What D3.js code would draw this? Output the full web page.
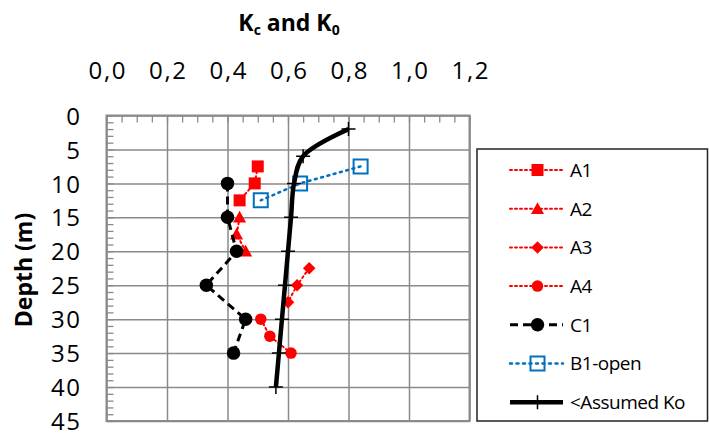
<!DOCTYPE html>
<html><head><meta charset="utf-8">
<script src="https://cdn.jsdelivr.net/npm/d3@7"></script>
<style>body{margin:0;background:#fff}svg{display:block;font-family:"Open Sans",sans-serif}</style>
</head><body><svg id="c" width="709" height="437"></svg>
<script>
// ---- data ----
const xTicks = [0, 0.2, 0.4, 0.6, 0.8, 1.0, 1.2];
const xTickLabels = ["0,0", "0,2", "0,4", "0,6", "0,8", "1,0", "1,2"];
const yTicks = [0, 5, 10, 15, 20, 25, 30, 35, 40, 45];
const seriesNames = ["A1", "A2", "A3", "A4", "C1", "B1-open", "<Assumed Ko"];
const a1K = [0.50, 0.49, 0.44];          const a1D = [7.5, 10, 12.5];
const a2K = [0.44, 0.43, 0.46];          const a2D = [15, 17.5, 20];
const a3K = [0.67, 0.63, 0.60];          const a3D = [22.5, 25, 27.5];
const a4K = [0.51, 0.54, 0.61];          const a4D = [30, 32.5, 35];
const c1K = [0.40, 0.40, 0.43, 0.33, 0.46, 0.42]; const c1D = [10, 15, 20, 25, 30, 35];
const b1K = [0.84, 0.64, 0.51];          const b1D = [7.5, 10, 12.5];
const koK = [0.80, 0.65, 0.62, 0.61, 0.60, 0.59, 0.58, 0.57, 0.56];
const koD = [2, 6, 10, 15, 20, 25, 30, 35, 40];

// ---- layout ----
const svg = d3.select("#c");
const L = 106.5, R = 469.5, T = 115.5, B = 421;
const x = d3.scaleLinear().domain([0, 1.2]).range([L, R]);
const y = d3.scaleLinear().domain([0, 45]).range([T, B]);
const gridC = "#8a8a8a";

// gridlines
svg.append("g").attr("transform", `translate(0,${T})`)
  .call(d3.axisBottom(x).tickValues(xTicks).tickSize(B - T).tickFormat(""))
  .call(g => g.select(".domain").remove())
  .call(g => g.selectAll("line").attr("stroke", gridC).attr("stroke-width", 1.5));
svg.append("g").attr("transform", `translate(${L},0)`)
  .call(d3.axisRight(y).tickValues(yTicks).tickSize(R - L).tickFormat(""))
  .call(g => g.select(".domain").remove())
  .call(g => g.selectAll("line").attr("stroke", gridC).attr("stroke-width", 1.5));
// minor ticks
svg.append("g").attr("transform", `translate(0,${T})`)
  .call(d3.axisBottom(x).tickValues(d3.range(0, 1.2001, 0.05)).tickSize(7).tickFormat(""))
  .call(g => g.select(".domain").remove())
  .call(g => g.selectAll("line").attr("stroke", gridC).attr("stroke-width", 1.3));
svg.append("g").attr("transform", `translate(${L},0)`)
  .call(d3.axisRight(y).tickValues(d3.range(0, 45.01, 1)).tickSize(7).tickFormat(""))
  .call(g => g.select(".domain").remove())
  .call(g => g.selectAll("line").attr("stroke", gridC).attr("stroke-width", 1.3));
// border
svg.append("rect").attr("x", L).attr("y", T).attr("width", R - L).attr("height", B - T)
  .attr("fill", "none").attr("stroke", gridC).attr("stroke-width", 2);

// tick labels
svg.append("g").attr("transform", `translate(0.8,79)`)
  .call(d3.axisTop(x).tickValues(xTicks).tickSize(0).tickPadding(0)
    .tickFormat((d, i) => xTickLabels[i]))
  .call(g => g.select(".domain").remove())
  .call(g => g.selectAll("text").attr("font-size", 24).attr("letter-spacing", 1.6)
    .attr("font-family", "Open Sans").attr("fill", "#000").attr("dy", 0));
svg.append("g").attr("transform", `translate(81.5,0)`)
  .call(d3.axisLeft(y).tickValues(yTicks).tickSize(0).tickPadding(0))
  .call(g => g.select(".domain").remove())
  .call(g => g.selectAll("text").attr("font-size", 24).attr("letter-spacing", 1.5)
    .attr("font-family", "Open Sans").attr("fill", "#000").attr("dy", "0.36em"));

// titles
const t = svg.append("text").attr("x", 289).attr("y", 31).attr("text-anchor", "middle")
  .attr("font-size", 23).attr("font-weight", "bold");
t.append("tspan").text("K");
t.append("tspan").attr("font-size", 14).attr("dy", 4).text("c");
t.append("tspan").attr("dy", -4).text(" and K");
t.append("tspan").attr("font-size", 14).attr("dy", 4).text("0");
svg.append("text").attr("transform", "translate(32,270) rotate(-90)").attr("text-anchor", "middle")
  .attr("font-size", 23).attr("font-weight", "bold").text("Depth (m)");

// series
const red = "#ff0000", blue = "#0070c0";
const series = [
  {k: a1K, d: a1D, color: red, dash: "2,3", w: 2, sym: "square", size: 12, fill: red},
  {k: a2K, d: a2D, color: red, dash: "2,3", w: 2, sym: "triangle", size: 13, fill: red},
  {k: a3K, d: a3D, color: red, dash: "2,3", w: 2, sym: "diamond", size: 12.5, fill: red},
  {k: a4K, d: a4D, color: red, dash: "2,3", w: 2, sym: "circle", size: 11.5, fill: red},
  {k: c1K, d: c1D, color: "#000", dash: "8,5", w: 3, sym: "circle", size: 13.5, fill: "#000"},
  {k: b1K, d: b1D, color: blue, dash: "2,4.5", w: 2.5, sym: "square", size: 14, fill: "none", open: true},
  {k: koK, d: koD, color: "#000", dash: null, w: 4.5, sym: "plus", size: 14, fill: "none", smooth: true}
];
function markerPath(sym, s) {
  const h = s / 2;
  if (sym === "square") return `M${-h},${-h}H${h}V${h}H${-h}Z`;
  if (sym === "triangle") return `M0,${-h}L${h},${h * 0.8}L${-h},${h * 0.8}Z`;
  if (sym === "diamond") return `M0,${-h}L${h},0L0,${h}L${-h},0Z`;
  if (sym === "circle") return d3.symbol(d3.symbolCircle, Math.PI * h * h)();
  if (sym === "plus") return `M${-h},0H${h}M0,${-h}V${h}`;
}
function drawMarker(g, s, cx, cy) {
  const p = g.append("path").attr("d", markerPath(s.sym, s.size)).attr("transform", `translate(${cx},${cy})`);
  if (s.sym === "plus") p.attr("fill", "none").attr("stroke", "#000").attr("stroke-width", 1.5);
  else if (s.open) p.attr("fill", "none").attr("stroke", s.color).attr("stroke-width", 2);
  else p.attr("fill", s.fill).attr("stroke", "none");
}
series.forEach(s => {
  const pts = s.k.map((v, i) => [x(v), y(s.d[i])]);
  const line = d3.line().curve(s.smooth ? d3.curveCatmullRom.alpha(0.5) : d3.curveLinear);
  const p = svg.append("path").attr("d", line(pts)).attr("fill", "none")
    .attr("stroke", s.color).attr("stroke-width", s.w);
  if (s.dash) p.attr("stroke-dasharray", s.dash).attr("stroke-linecap", s.dash.startsWith("2") ? "round" : "butt");
  const g = svg.append("g");
  pts.forEach(q => drawMarker(g, s, q[0], q[1]));
});

// legend
svg.append("rect").attr("x", 477).attr("y", 149).attr("width", 230.5).attr("height", 272)
  .attr("fill", "#fff").attr("stroke", "#222").attr("stroke-width", 1.5);
seriesNames.forEach((name, i) => {
  const s = series[i];
  const ly = 170 + i * 38.7;
  const p = svg.append("path").attr("d", `M510,${ly}H563`).attr("fill", "none")
    .attr("stroke", s.color).attr("stroke-width", s.w);
  if (s.dash) p.attr("stroke-dasharray", s.dash).attr("stroke-linecap", s.dash.startsWith("2") ? "round" : "butt");
  drawMarker(svg.append("g"), s, 537.5, ly);
  svg.append("text").attr("x", 570).attr("y", ly).attr("dy", "0.36em")
    .attr("font-size", 19).attr("letter-spacing", -0.5).attr("fill", "#000").text(name);
});
</script></body></html>
